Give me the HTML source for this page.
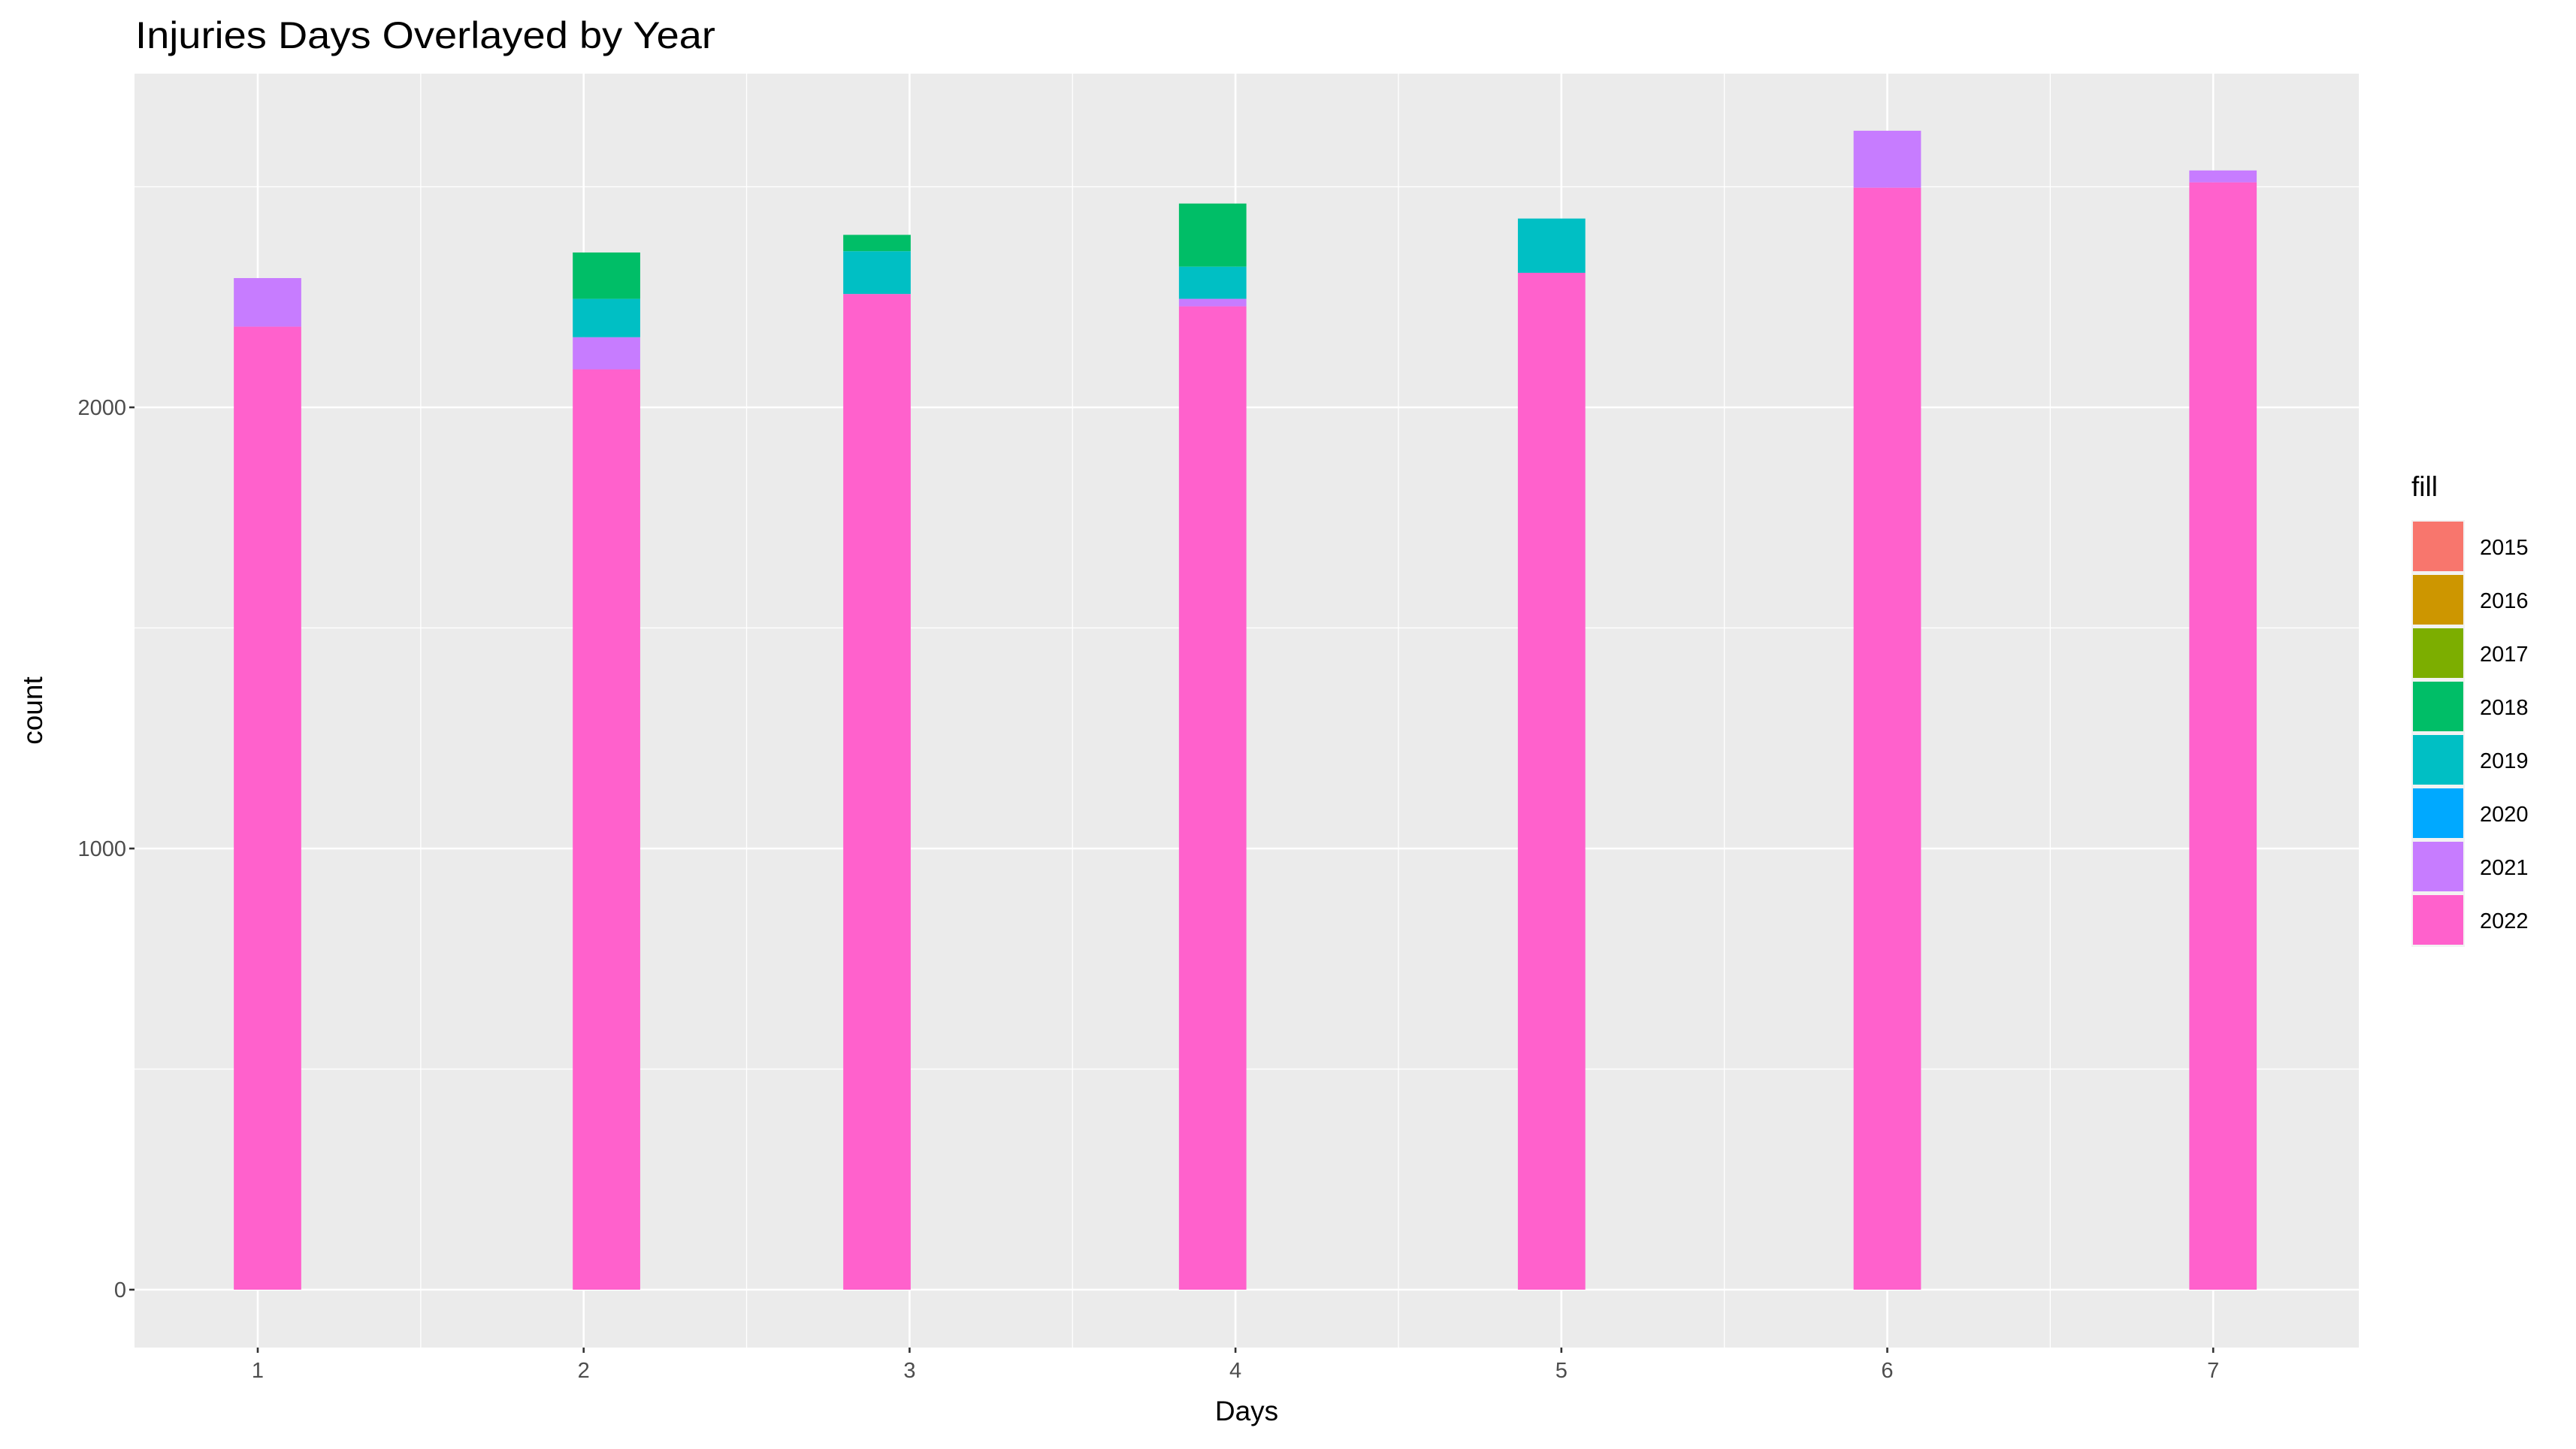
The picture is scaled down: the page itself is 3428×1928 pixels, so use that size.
<!DOCTYPE html>
<html><head><meta charset="utf-8"><style>
html,body{margin:0;padding:0;background:#fff;}
svg{display:block;font-family:"Liberation Sans",sans-serif;}
</style></head><body>
<svg id="chart" width="3428" height="1928" viewBox="0 0 3428 1928">
<rect width="3428" height="1928" fill="#fff"/>
<text x="180" y="64" font-size="50" textLength="772" lengthAdjust="spacingAndGlyphs" fill="#000">Injuries Days Overlayed by Year</text>
<g id="plot"></g>
</svg>
<script>
const binCenters = [1.03, 2.07, 2.9, 3.93, 4.97, 6.0, 7.03];
const years = ["2015","2016","2017","2018","2019","2020","2021","2022"];
const colors = ["#F8766D","#CD9600","#7CAE00","#00BE67","#00BFC4","#00A9FF","#C77CFF","#FF61CC"];
// segment counts per bin, stacked bottom-up: 2022, 2021, 2019, 2018
const count2022 = [2183, 2086, 2257, 2229, 2305, 2498, 2510];
const count2021 = [110, 73, 0, 17, 0, 129, 27];
const count2019 = [0, 87, 97, 73, 123, 0, 0];
const count2018 = [0, 105, 37, 143, 0, 0, 0];
const yTicks = [0, 1000, 2000];
const xTicks = [1, 2, 3, 4, 5, 6, 7];

const NS = "http://www.w3.org/2000/svg";
const P = {l:179, r:3139, t:98, b:1793};
const sx = d => 343 + (d - 1) * 433.7;
const sy = v => 1716 - v * 0.587;
const binW = 0.2069;
const g = document.getElementById("plot");
function mk(tag, attrs, parent){ const e=document.createElementNS(NS,tag); for(const k in attrs) e.setAttribute(k,attrs[k]); (parent||g).appendChild(e); return e; }

const panel = mk("rect",{x:P.l,y:P.t,width:P.r-P.l,height:P.b-P.t,fill:"#EBEBEB"});


[500,1500,2500].forEach(v=>{ const l=mk("line",{x1:P.l,x2:P.r,y1:sy(v),y2:sy(v),stroke:"#fff","stroke-width":1.3});
 
  });
[1.5,2.5,3.5,4.5,5.5,6.5].forEach(d=>{ const l=mk("line",{x1:sx(d),x2:sx(d),y1:P.t,y2:P.b,stroke:"#fff","stroke-width":1.3});
 
  });
yTicks.forEach(v=>{ const l=mk("line",{x1:P.l,x2:P.r,y1:sy(v),y2:sy(v),stroke:"#fff","stroke-width":2.6});
 
 
 const t=mk("line",{x1:P.l-7,x2:P.l,y1:sy(v),y2:sy(v),stroke:"#333","stroke-width":2.6});
 
 
 const tx=mk("text",{x:P.l-11,y:sy(v)+10,"text-anchor":"end","font-size":29,fill:"#4D4D4D"}); tx.textContent=v;
 
  });
xTicks.forEach(d=>{ const l=mk("line",{x1:sx(d),x2:sx(d),y1:P.t,y2:P.b,stroke:"#fff","stroke-width":2.6});
 
 
 const t=mk("line",{x1:sx(d),x2:sx(d),y1:P.b,y2:P.b+7,stroke:"#333","stroke-width":2.6});
 
 
 const tx=mk("text",{x:sx(d),y:P.b+40,"text-anchor":"middle","font-size":29,fill:"#4D4D4D"}); tx.textContent=d;
 
  });

const stack = [[count2022,"#FF61CC","2022"],[count2021,"#C77CFF","2021"],[count2019,"#00BFC4","2019"],[count2018,"#00BE67","2018"]];
binCenters.forEach((c,i)=>{
  let base=0;
  stack.forEach(([arr,col,yr])=>{
    const v=arr[i]; if(v<=0) return;
    const r=mk("rect",{x:sx(c-binW/2),y:sy(base+v),width:sx(c+binW/2)-sx(c-binW/2),height:sy(base)-sy(base+v),fill:col});
    
    
    base+=v;
  });
});

const xt=mk("text",{x:(P.l+P.r)/2,y:1890,"text-anchor":"middle","font-size":37,fill:"#000"}); xt.textContent="Days";


const yt=mk("text",{x:0,y:0,"text-anchor":"middle","font-size":37,fill:"#000",transform:"translate(56,"+((P.t+P.b)/2)+") rotate(-90)"}); yt.textContent="count";



const lt=mk("text",{x:3209,y:660,"font-size":37,fill:"#000"}); lt.textContent="fill";


years.forEach((yr,i)=>{
  const y0=692+i*71;
  const bg=mk("rect",{x:3209,y:y0,width:71,height:71,fill:"#F2F2F2"});
  
  
  const k=mk("rect",{x:3211,y:y0+2,width:67,height:66,fill:colors[i]});
  
  
  const t=mk("text",{x:3300,y:y0+46,"font-size":29,fill:"#000"}); t.textContent=yr;
  
  
});
</script>
</body></html>
